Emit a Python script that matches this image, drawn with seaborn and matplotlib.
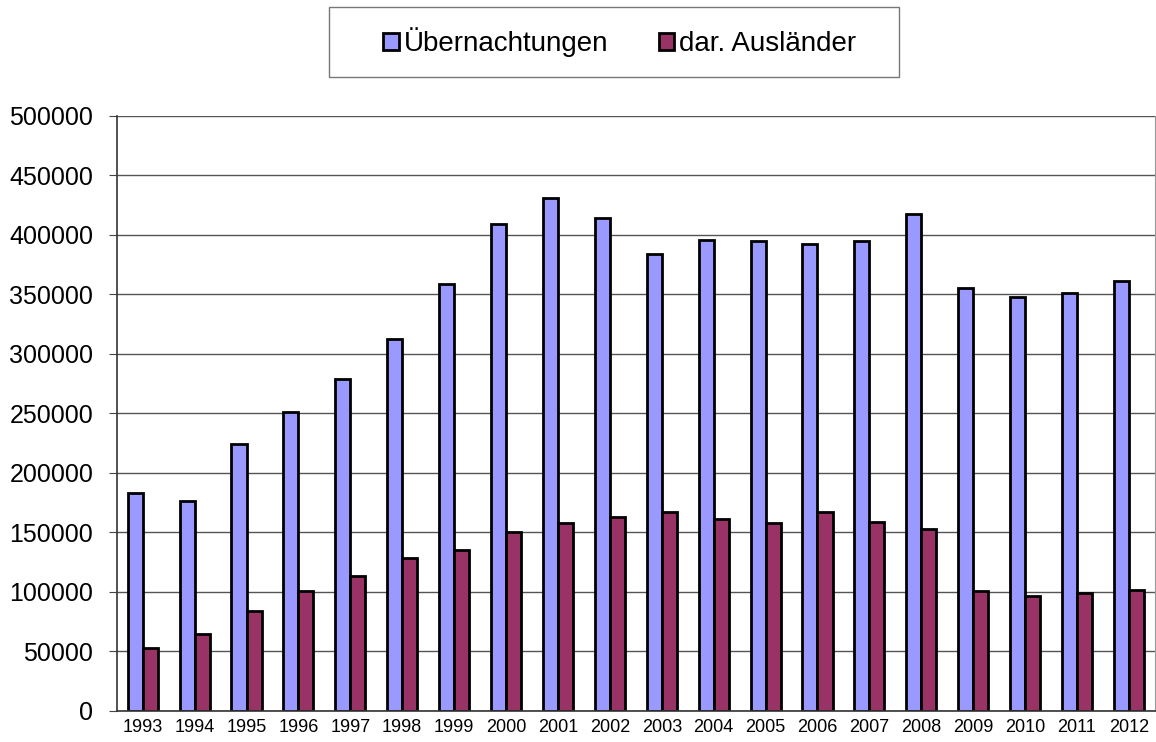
import matplotlib
matplotlib.use("Agg")
import matplotlib.pyplot as plt
import matplotlib.patches as mpatches
import seaborn as sns
import pandas as pd
import numpy as np

# Werte
jahre = [str(j) for j in range(1993, 2013)]
uebernachtungen = [183000, 176000, 224000, 251000, 279000, 312500, 359000, 409000, 430500, 414000,
                   384000, 396000, 394500, 392000, 394500, 417500, 355000, 347500, 351000, 361000]
auslaender = [53000, 64500, 83500, 100600, 113500, 128000, 135000, 150500, 157500, 162500,
              167000, 161000, 158000, 167000, 159000, 153000, 101000, 96700, 99000, 101500]
serien = ["Übernachtungen", "dar. Ausländer"]
farben = ["#9999FF", "#993366"]

df = pd.DataFrame({
    "Jahr": jahre * 2,
    "Wert": uebernachtungen + auslaender,
    "Serie": [serien[0]] * len(jahre) + [serien[1]] * len(jahre),
})

sns.set_style("white")
plt.rcParams["font.family"] = ["Liberation Sans", "DejaVu Sans"]
plt.rcParams["text.color"] = "black"
plt.rcParams["xtick.color"] = "black"
plt.rcParams["ytick.color"] = "black"

fig = plt.figure(figsize=(11.56, 7.42), dpi=100)
ax = fig.add_axes([0.101, 0.042, 0.898, 0.802])

sns.barplot(data=df, x="Jahr", y="Wert", hue="Serie", palette=farben, width=0.58,
            saturation=1, edgecolor="black", linewidth=2.0, ax=ax, legend=False)

ax.set_ylim(0, 500000)
ax.set_xlim(-0.5, len(jahre) - 0.5)
ax.set_yticks(np.arange(0, 500001, 50000))
ax.set_yticklabels([str(v) for v in range(0, 500001, 50000)], fontsize=18)
ax.set_xticklabels(jahre, fontsize=13)
ax.set_xlabel("")
ax.set_ylabel("")
ax.yaxis.grid(True, color="#555555", linewidth=1.0)
ax.set_axisbelow(True)

# Teilstriche zwischen den Kategorien
ax.set_xticks(np.arange(-0.5, len(jahre), 1), minor=True)
ax.tick_params(axis="x", which="major", length=0, pad=6)
ax.tick_params(axis="x", which="minor", length=5, width=0.8, color="#444444")
ax.tick_params(axis="y", which="major", length=6, width=0.8, color="#444444", left=True, pad=11)

for s in ["left", "bottom"]:
    ax.spines[s].set_color("#333333")
    ax.spines[s].set_linewidth(1.2)
ax.spines["top"].set_visible(False)
ax.spines["right"].set_color("#999999")

# Legende ohne eigenen Rahmen, Rahmen separat wie im Original
handles = [plt.Rectangle((0, 0), 1, 1, facecolor=c, edgecolor="black", linewidth=2.0) for c in farben]
fig.legend(handles, serien, loc="center", bbox_to_anchor=(0.5363, 0.943), ncol=2,
           fontsize=20, frameon=False, handlelength=0.55, handleheight=0.55,
           handletextpad=0.2, columnspacing=1.8, borderaxespad=0)
rahmen = mpatches.Rectangle((329 / 1156, 1 - 77 / 742), 570 / 1156, 70 / 742,
                            transform=fig.transFigure, facecolor="none",
                            edgecolor="#777777", linewidth=1.0)
fig.patches.append(rahmen)

fig.savefig("out.png", dpi=100)
